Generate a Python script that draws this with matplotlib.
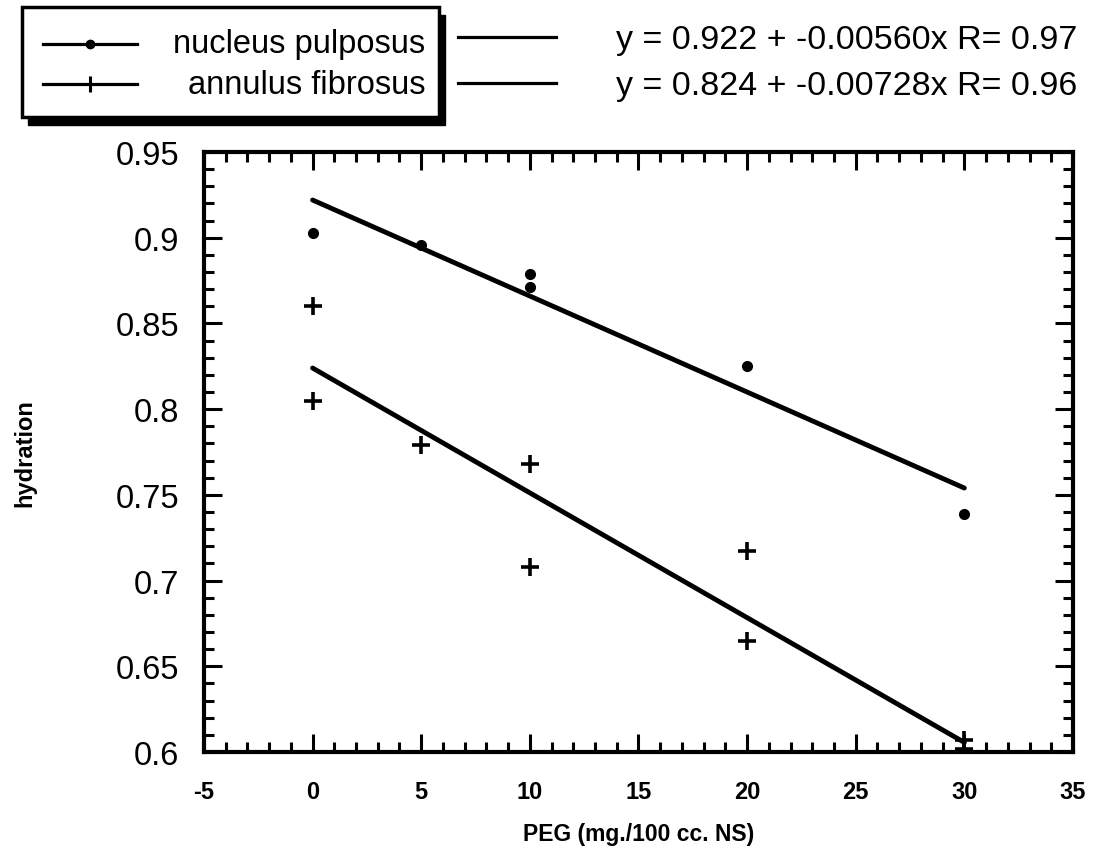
import numpy as np
import matplotlib
matplotlib.use('Agg')
import matplotlib.pyplot as plt
from matplotlib.lines import Line2D
from matplotlib.patches import Rectangle
from matplotlib.ticker import MultipleLocator

plt.rcParams['font.family'] = ['Liberation Sans', 'DejaVu Sans']

# data
np_x = [0, 5, 10, 10, 20, 30]
np_y = [0.903, 0.896, 0.879, 0.871, 0.825, 0.739]
af_x = [0, 0, 5, 10, 10, 20, 20, 30, 30]
af_y = [0.860, 0.805, 0.779, 0.768, 0.708, 0.717, 0.665, 0.607, 0.602]

# fit coefficients as printed on the chart
fit_x = [0, 30]
np_fit = (0.922, -0.00560, 0.97)
af_fit = (0.824, -0.00728, 0.96)

labels = ['nucleus pulposus', 'annulus fibrosus']
xticks = [-5, 0, 5, 10, 15, 20, 25, 30, 35]
yticks = [0.6, 0.65, 0.7, 0.75, 0.8, 0.85, 0.9, 0.95]
ytick_labels = ['0.6', '0.65', '0.7', '0.75', '0.8', '0.85', '0.9', '0.95']

fig = plt.figure(figsize=(10.99, 8.53), dpi=100)
ax = fig.add_axes([0.1856, 0.1172, 0.7907, 0.7034])

ax.plot(np_x, np_y, linestyle='none', marker='o', markersize=7, color='k')
ax.plot(af_x, af_y, linestyle='none', marker='+', markersize=13, markeredgewidth=2.6, color='k')

fx = np.array(fit_x)
for b, m, r in [np_fit, af_fit]:
    ax.plot(fx, b + m * fx, color='k', linewidth=3.5, solid_capstyle='round')

ax.set_xlim(-5, 35)
ax.set_ylim(0.6, 0.95)
ax.set_xticks(xticks)
ax.set_yticks(yticks)
ax.set_xticklabels([str(t) for t in xticks])
ax.set_yticklabels(ytick_labels)
ax.xaxis.set_minor_locator(MultipleLocator(1))
ax.yaxis.set_minor_locator(MultipleLocator(0.01))

for s in ax.spines.values():
    s.set_linewidth(3)
ax.tick_params(which='both', direction='in', top=True, right=True, width=2.2)
ax.tick_params(which='major', length=13)
ax.tick_params(which='minor', length=7)
ax.tick_params(axis='y', labelsize=23.5, pad=18)
ax.tick_params(axis='x', labelsize=17, pad=20)
for lab in ax.get_xticklabels():
    lab.set_fontweight('bold')

ax.set_xlabel('PEG (mg./100 cc. NS)', fontsize=16.5, fontweight='bold', labelpad=14)
ax.set_ylabel('hydration', fontsize=17, fontweight='bold')
ax.yaxis.set_label_coords(-0.193, 0.5)

# legend box with drop shadow (figure pixel coords -> fraction)
W, H = 1099.0, 853.0
def fxp(px):
    return px / W
def fyp(py):
    return 1 - py / H

fig.patches.append(Rectangle((fxp(28), fyp(126)), fxp(417), fyp(0) - fyp(110),
                             transform=fig.transFigure, facecolor='k', edgecolor='k', zorder=1))
fig.patches.append(Rectangle((fxp(22), fyp(118)), fxp(417), fyp(0) - fyp(110),
                             transform=fig.transFigure, facecolor='white', edgecolor='k',
                             linewidth=2.5, zorder=2))

leg_rows = [45, 85]
eq_rows = [40, 86]
markers = [dict(marker='o', markersize=6), dict(marker='|', markersize=11, markeredgewidth=2.2)]
for yy, ey, lab, mk, (b, m, r) in zip(leg_rows, eq_rows, labels, markers, [np_fit, af_fit]):
    fig.lines.append(Line2D([fxp(43), fxp(137)], [fyp(yy), fyp(yy)], transform=fig.transFigure,
                            color='k', linewidth=2.3, zorder=3))
    fig.lines.append(Line2D([fxp(90)], [fyp(yy)], transform=fig.transFigure, color='k',
                            linestyle='none', zorder=4, **mk))
    fig.text(fxp(425), fyp(yy), lab, fontsize=23.5, ha='right', va='center', zorder=5)
    fig.lines.append(Line2D([fxp(458), fxp(556)], [fyp(ey - 2), fyp(ey - 2)], transform=fig.transFigure,
                            color='k', linewidth=2.3))
    fig.text(fxp(616), fyp(ey), 'y = %.3f + %.5fx R= %.2f' % (b, m, r),
             fontsize=24.5, ha='left', va='center')

fig.savefig('out.png', dpi=100)
